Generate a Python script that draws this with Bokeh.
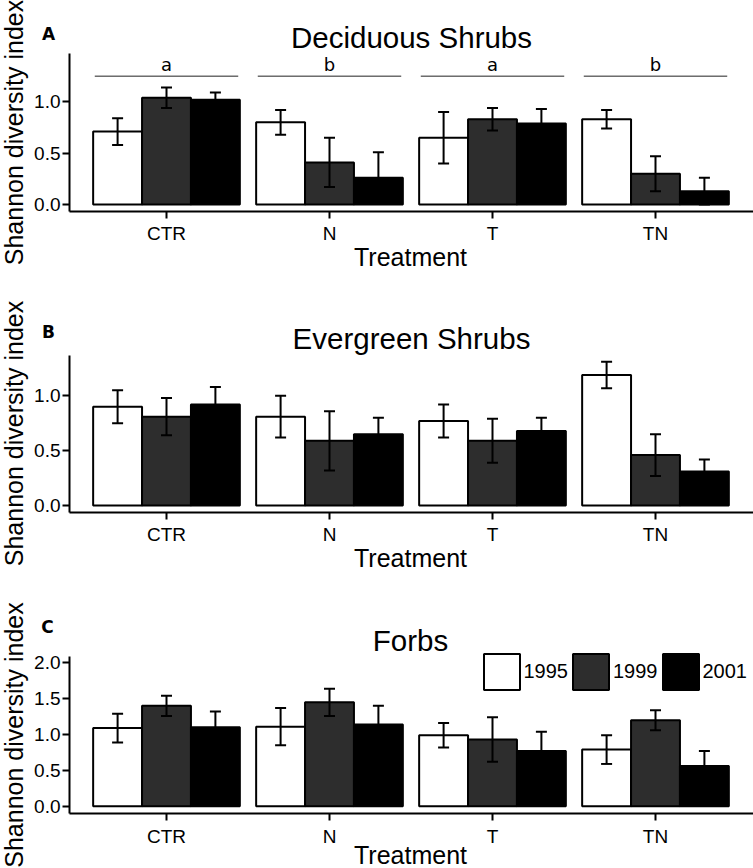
import math
from bokeh.plotting import figure
from bokeh.models import (Range1d, FixedTicker, PrintfTickFormatter, Whisker, TeeHead,
                          ColumnDataSource, Legend, LegendItem, Label)
from bokeh.transform import dodge
from bokeh.layouts import column
from bokeh.core.properties import value
from bokeh.embed import file_html
from bokeh.resources import INLINE

treatments = ["CTR", "N", "T", "TN"]
years = ["1995", "1999", "2001"]

# Deciduous shrubs (panel A)
dec_1995 = [0.71, 0.80, 0.65, 0.83]
dec_1999 = [1.04, 0.41, 0.83, 0.30]
dec_2001 = [1.02, 0.26, 0.79, 0.13]
dec_se_1995 = [0.13, 0.12, 0.25, 0.09]
dec_se_1999 = [0.10, 0.24, 0.11, 0.17]
dec_se_2001 = [0.07, 0.25, 0.14, 0.13]
dec_letters = ["a", "b", "a", "b"]

# Evergreen shrubs (panel B)
eve_1995 = [0.90, 0.81, 0.77, 1.19]
eve_1999 = [0.81, 0.59, 0.59, 0.46]
eve_2001 = [0.92, 0.65, 0.68, 0.31]
eve_se_1995 = [0.15, 0.19, 0.15, 0.12]
eve_se_1999 = [0.17, 0.27, 0.20, 0.19]
eve_se_2001 = [0.16, 0.15, 0.12, 0.11]

# Forbs (panel C)
frb_1995 = [1.09, 1.11, 0.99, 0.79]
frb_1999 = [1.40, 1.45, 0.93, 1.20]
frb_2001 = [1.10, 1.14, 0.77, 0.56]
frb_se_1995 = [0.20, 0.26, 0.17, 0.20]
frb_se_1999 = [0.14, 0.19, 0.31, 0.14]
frb_se_2001 = [0.22, 0.26, 0.27, 0.21]

FILLS = ["white", "#2d2d2d", "black"]
OFFS = [-0.3, 0.0, 0.3]
FONT = "Liberation Sans"
W = 753
REF_W = 753.0
CAT_PX, CAT0_PX = 163.0, 166.0   # px per category, px of first category


def panel(title, letter, vals, ses, y0_px, ppu, top_px, bot_px, ybounds, yticks,
          title_px, letter_px, ylab_px, xlab_px, letters=None, legend=False):
    height = int(round(bot_px - top_px))
    to_x = lambda px: 1 + (px - CAT0_PX) / CAT_PX
    to_y = lambda py: (y0_px - py) / ppu

    p = figure(width=W, height=height,
               x_range=Range1d(to_x(0), to_x(REF_W)), y_range=Range1d(to_y(bot_px), to_y(top_px)),
               output_backend="svg", toolbar_location=None, title_location=None, min_border=0)
    p.outline_line_color = None
    p.grid.visible = False
    p.background_fill_color = "white"
    p.border_fill_color = "white"

    xpos = list(range(1, len(treatments) + 1))
    data = {"xi": xpos}
    for i, y in enumerate(years):
        data["v" + y] = vals[i]
        data["lo" + y] = [v - s for v, s in zip(vals[i], ses[i])]
        data["hi" + y] = [v + s for v, s in zip(vals[i], ses[i])]
    src = ColumnDataSource(data)

    rends = []
    for i, y in enumerate(years):
        r = p.vbar(x=dodge("xi", OFFS[i]), top="v" + y, bottom=0, width=0.3,
                   source=src, fill_color=FILLS[i], line_color="black", line_width=2)
        rends.append(r)
    for i, y in enumerate(years):
        w = Whisker(base=dodge("xi", OFFS[i]), upper="hi" + y, lower="lo" + y,
                    source=src, line_color="black", line_width=2, level="annotation",
                    upper_head=TeeHead(size=11, line_width=2, line_color="black"),
                    lower_head=TeeHead(size=11, line_width=2, line_color="black"))
        p.add_layout(w)

    if letters is not None:
        lsrc = ColumnDataSource({"xi": xpos, "lab": letters,
                                 "ly": [1.25] * 4, "ty": [1.36] * 4})
        p.segment(x0=dodge("xi", -0.44), x1=dodge("xi", 0.44), y0="ly", y1="ly",
                  source=lsrc, line_color="#222222", line_width=1)
        p.text(x="xi", y="ty", text="lab", source=lsrc, text_align="center", text_baseline="middle",
               text_font=value("DejaVu Sans"), text_font_size="18px", text_color="black")

    def lab(txt, px, size, bold=False, angle=0.0, font=FONT):
        p.add_layout(Label(x=to_x(px[0]), y=to_y(px[1]), text=txt, text_font=font,
                           text_font_size=size, text_font_style="bold" if bold else "normal",
                           text_color="black", text_align="center", text_baseline="middle",
                           angle=angle))

    lab(title, title_px, "29.5px")
    lab(letter, letter_px, "17px", bold=True, font="DejaVu Sans")
    lab("Shannon diversity index", ylab_px, "25px", angle=math.pi / 2)
    lab("Treatment", xlab_px, "25px")

    xax, yax = p.xaxis[0], p.yaxis[0]
    for ax in (xax, yax):
        ax.axis_line_width = 2
        ax.major_tick_line_width = 2
        ax.major_tick_out = 7
        ax.major_tick_in = 0
        ax.minor_tick_line_color = None
        ax.major_label_text_font = FONT
        ax.major_label_text_font_size = "19px"
        ax.major_label_text_color = "black"
        ax.axis_label = None
    xax.fixed_location = ybounds[0]
    xax.bounds = (to_x(69), to_x(REF_W))
    xax.ticker = FixedTicker(ticks=xpos)
    xax.major_label_overrides = {x: t for x, t in zip(xpos, treatments)}
    xax.major_label_standoff = 5
    yax.fixed_location = to_x(69)
    yax.bounds = ybounds
    yax.ticker = FixedTicker(ticks=yticks)
    yax.formatter = PrintfTickFormatter(format="%.1f")
    yax.major_label_standoff = 2

    if legend:
        gx = 483 - 4.5
        gy = height - ((689 - top_px) + 4.5)
        leg = Legend(items=[LegendItem(label=y, renderers=[rends[i]]) for i, y in enumerate(years)],
                     orientation="horizontal", location=(gx, gy), glyph_width=45, glyph_height=45,
                     label_standoff=0, spacing=0, padding=0, margin=0,
                     label_text_font=FONT, label_text_font_size="20px", label_text_color="black",
                     border_line_color=None, background_fill_alpha=0)
        p.add_layout(leg)
    return p


pA = panel("Deciduous Shrubs", "A", [dec_1995, dec_1999, dec_2001],
           [dec_se_1995, dec_se_1999, dec_se_2001], 204.0, 102.67, 0.0, 284.0,
           (-0.068, 1.468), [0, 0.5, 1.0],
           (411, 36.5), (48, 33.5), (13, 132), (410, 256), letters=dec_letters)
pB = panel("Evergreen Shrubs", "B", [eve_1995, eve_1999, eve_2001],
           [eve_se_1995, eve_se_1999, eve_se_2001], 505.0, 109.67, 284.0, 580.0,
           (-0.062, 1.368), [0, 0.5, 1.0],
           (411, 337.5), (48, 331), (13, 433), (410, 557))
pC = panel("Forbs", "C", [frb_1995, frb_1999, frb_2001],
           [frb_se_1995, frb_se_1999, frb_se_2001], 805.7, 71.67, 580.0, 868.0,
           (-0.105, 2.09), [0, 0.5, 1.0, 1.5, 2.0],
           (410, 640), (47, 626.5), (13, 734.5), (410, 854), legend=True)

layout = column(pA, pB, pC, spacing=0)
open("out.html", "w").write(file_html(layout, INLINE))
